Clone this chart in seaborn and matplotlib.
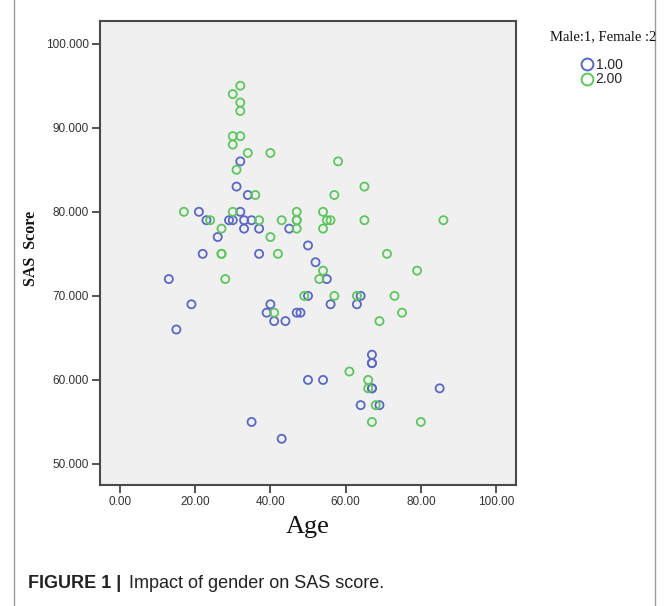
import matplotlib
matplotlib.use("Agg")
import matplotlib.pyplot as plt
from matplotlib.lines import Line2D
from matplotlib.patches import Rectangle
import seaborn as sns
import pandas as pd

# ---- data ----
male_age = [32, 31, 34, 21, 32, 23, 29, 30, 33, 35, 33, 37, 45, 26, 50, 22, 37, 52, 13, 55,
            50, 64, 19, 40, 56, 63, 39, 47, 48, 41, 44, 15, 67, 67, 67, 50, 54, 67, 67, 85,
            64, 69, 35, 43]
male_sas = [86, 83, 82, 80, 80, 79, 79, 79, 79, 79, 78, 78, 78, 77, 76, 75, 75, 74, 72, 72,
            70, 70, 69, 69, 69, 69, 68, 68, 68, 67, 67, 66, 63, 62, 62, 60, 60, 59, 59, 59,
            57, 57, 55, 53]
female_age = [32, 30, 32, 32, 30, 32, 30, 34, 40, 58, 31, 65, 36, 57, 17, 30, 47, 54, 24, 37,
              43, 47, 47, 55, 56, 65, 86, 27, 47, 54, 40, 27, 27, 42, 71, 54, 79, 28, 53, 49,
              57, 63, 73, 41, 75, 69, 61, 66, 66, 68, 67, 80]
female_sas = [95, 94, 93, 92, 89, 89, 88, 87, 87, 86, 85, 83, 82, 82, 80, 80, 80, 80, 79, 79,
              79, 79, 79, 79, 79, 79, 79, 78, 78, 78, 77, 75, 75, 75, 75, 73, 73, 72, 72, 70,
              70, 70, 70, 68, 68, 67, 61, 60, 59, 57, 55, 55]
gender_labels = ["1.00", "2.00"]
x_ticks = [0, 20, 40, 60, 80, 100]
y_ticks = [50, 60, 70, 80, 90, 100]

df = pd.DataFrame({
    "Age": male_age + female_age,
    "SAS": male_sas + female_sas,
    "Gender": [gender_labels[0]] * len(male_age) + [gender_labels[1]] * len(female_age),
})

BLUE = "#5a68c4"
GREEN = "#5ec65e"
palette = {gender_labels[0]: BLUE, gender_labels[1]: GREEN}

sns.set_style("white")
fig = plt.figure(figsize=(6.69, 6.06), dpi=100)
W, H = 669, 606
ax = fig.add_axes([100 / W, 1 - 485 / H, 416 / W, 464 / H])
ax.set_facecolor("#f0f0f0")

for g in gender_labels:
    sub = df[df["Gender"] == g]
    sns.scatterplot(data=sub, x="Age", y="SAS", ax=ax, s=34, marker="o",
                    facecolor="none", edgecolor=palette[g], linewidth=1.3,
                    legend=False)

ax.set_xlim(-5.3, 105.3)
ax.set_ylim(47.5, 102.7)
ax.set_xticks(x_ticks)
ax.set_yticks(y_ticks)
ax.set_xticklabels([f"{v:.2f}" for v in x_ticks], fontsize=8.5, color="#333333",
                   family="Liberation Sans")
ax.set_yticklabels([f"{v:.3f}" for v in y_ticks], fontsize=8.5, color="#333333",
                   family="Liberation Sans")
ax.tick_params(axis="both", direction="out", length=6, width=1.2, color="#333333",
               bottom=True, left=True, pad=2)
for sp in ax.spines.values():
    sp.set_color("#4a4a4a")
    sp.set_linewidth(1.5)

ax.set_xlabel("Age", fontsize=19, family="Liberation Serif", labelpad=6, color="#111111")
ax.set_ylabel("SAS  Score", fontsize=11.5, family="Liberation Serif", fontweight="bold",
              color="#111111")
ax.yaxis.set_label_coords((39 - 100) / 416, (485 - 248) / 464)

# legend
fig.text(603 / W, 1 - 37 / H, "Male:1, Female :2", ha="center", va="center",
         family="Liberation Serif", fontsize=10.5, color="#111111")
handles = [Line2D([], [], linestyle="none", marker="o", markersize=8.5,
                  markerfacecolor="none", markeredgecolor=palette[g], markeredgewidth=1.4)
           for g in gender_labels]
fig.legend(handles, gender_labels, loc="upper left",
           bbox_to_anchor=(570 / W, 1 - 48 / H), frameon=False,
           handlelength=1.0, handletextpad=0.15, labelspacing=0.05, borderpad=0.2,
           prop={"family": "Liberation Sans", "size": 10})

# caption
fig.text(28 / W, 1 - 583 / H, "FIGURE 1 |", fontsize=13, fontweight="bold",
         family="Liberation Sans", va="center", color="#222222")
fig.text(129 / W, 1 - 583 / H, "Impact of gender on SAS score.", fontsize=13,
         family="Liberation Sans", va="center", color="#222222")

# outer frame
fig.patches.append(Rectangle((14 / W, -0.01), 641 / W, 1.02, transform=fig.transFigure,
                             fill=False, edgecolor="#9a9a9a", linewidth=1.0))

fig.savefig("out.png", dpi=100)
